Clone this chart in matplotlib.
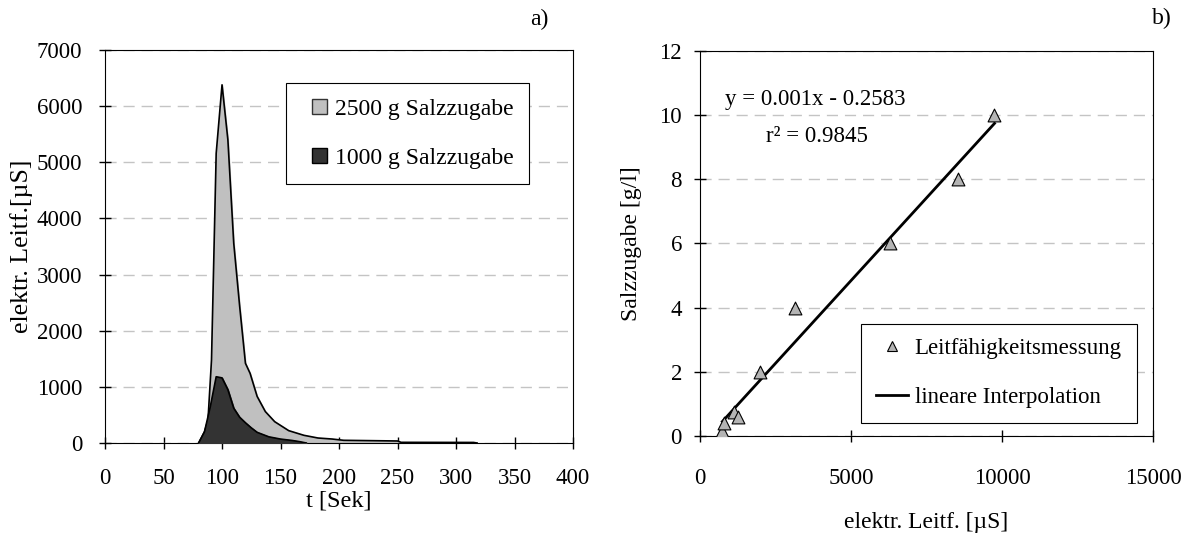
import numpy as np
import matplotlib
matplotlib.use("Agg")
import matplotlib.pyplot as plt
from matplotlib.patches import Patch, Rectangle
from matplotlib.lines import Line2D
from matplotlib.legend_handler import HandlerPatch

plt.rcParams['font.family'] = ['Liberation Serif', 'DejaVu Serif']
plt.rcParams['font.size'] = 16.5

# left panel: conductivity over time
t_2500 = [80, 85, 88, 91, 95, 100, 105, 110, 115, 120, 124, 130, 137, 145, 157,
          170, 182, 194, 204, 250, 253, 315, 318]
v_2500 = [0, 200, 410, 1480, 5160, 6380, 5400, 3560, 2450, 1420, 1240, 830, 560,
          380, 220, 137, 89, 71, 48, 36, 12, 10, 0]
t_1000 = [80, 85, 90, 95, 100, 105, 110, 115, 120, 125, 130, 140, 150, 160, 166, 172]
v_1000 = [0, 200, 650, 1180, 1160, 950, 620, 460, 360, 270, 190, 110, 70, 45, 25, 0]

# right panel: calibration
leitf = [740, 795, 1126, 1248, 2000, 3150, 6300, 8550, 9750]
salz = [0.15, 0.4, 0.75, 0.6, 2, 4, 6, 8, 10]

light = '#c0c0c0'
dark = '#333333'
grid_col = '#c4c4c4'


def small_square(legend, orig_handle, xdescent, ydescent, width, height, fontsize):
    # square sitting at the right end of the handle box
    side = 0.62 * fontsize
    return Rectangle((-xdescent + width - side, -ydescent + (height - side) / 2),
                     side, side)


fig = plt.figure(figsize=(11.95, 5.36), dpi=100)

# ---- a) ----
ax1 = fig.add_axes([0.0879, 0.1735, 0.3916, 0.7332])
ax1.fill_between(t_2500, v_2500, color=light, zorder=2)
ax1.plot(t_2500, v_2500, color='black', lw=1.2, zorder=3)
ax1.fill_between(t_1000, v_1000, color=dark, zorder=4)
ax1.plot(t_1000, v_1000, color='black', lw=1.2, zorder=5)
ax1.set_xlim(0, 400)
ax1.set_ylim(0, 7000)
ax1.set_xticks(np.arange(0, 401, 50))
ax1.set_yticks(np.arange(0, 7001, 1000))
ax1.yaxis.grid(True, ls=(0, (8, 5)), color=grid_col, lw=1)
ax1.set_axisbelow(True)
ax1.tick_params(direction='inout', length=8, width=1)
ax1.tick_params(axis='x', pad=14)
ax1.tick_params(axis='y', pad=12.5)
ax1.set_xlabel('t [Sek]', fontsize=17.5, va='center')
ax1.xaxis.set_label_coords(0.5, -0.147)
ax1.set_ylabel('elektr. Leitf.[µS]', fontsize=18.5, va='center')
ax1.yaxis.set_label_coords(-0.178, 0.5)
h1 = [Patch(facecolor=light, edgecolor='#333333', label='2500 g Salzzugabe'),
      Patch(facecolor=dark, edgecolor='black', label='1000 g Salzzugabe')]
leg1 = ax1.legend(handles=h1, loc='upper left', bbox_to_anchor=(0.387, 0.916),
                  borderaxespad=0, fancybox=False, edgecolor='black', framealpha=1,
                  handlelength=1.06, handleheight=0.7, handletextpad=0.34,
                  labelspacing=1.15, borderpad=0.65, fontsize=17,
                  handler_map={Patch: HandlerPatch(patch_func=small_square)})
leg1.get_frame().set_linewidth(0.8)
fig.text(0.451, 0.963, 'a)', fontsize=17, ha='center', va='center')

# ---- b) ----
ax2 = fig.add_axes([0.5858, 0.1866, 0.3791, 0.7183])
k, d = np.polyfit(leitf, salz, 1)
xf = np.array([min(leitf), max(leitf)])
ax2.plot(xf, k * xf + d, color='black', lw=2, zorder=3)
ax2.scatter(leitf, salz, marker='^', s=85, facecolor='#b4b4b4',
            edgecolor='black', linewidths=0.8, zorder=4)
ax2.set_xlim(0, 15000)
ax2.set_ylim(0, 12)
ax2.set_xticks([0, 5000, 10000, 15000])
ax2.set_yticks(np.arange(0, 13, 2))
ax2.yaxis.grid(True, ls=(0, (8, 5)), color=grid_col, lw=1)
ax2.set_axisbelow(True)
ax2.tick_params(direction='inout', length=8, width=1)
ax2.tick_params(axis='x', pad=19)
ax2.tick_params(axis='y', pad=9)
ax2.set_xlabel('elektr. Leitf. [µS]', fontsize=17, va='center')
ax2.xaxis.set_label_coords(0.5, -0.226)
ax2.set_ylabel('Salzzugabe [g/l]', fontsize=17, va='center')
ax2.yaxis.set_label_coords(-0.152, 0.5)
ax2.text(0.055, 0.873, 'y = 0.001x - 0.2583', transform=ax2.transAxes,
         fontsize=16.5, va='center', ha='left')
ax2.text(0.146, 0.777, 'r² = 0.9845', transform=ax2.transAxes,
         fontsize=16.5, va='center', ha='left')
h2 = [Line2D([], [], marker='^', ls='none', markersize=7, markerfacecolor='#b4b4b4',
             markeredgecolor='black', markeredgewidth=0.8, label='Leitfähigkeitsmessung'),
      Line2D([], [], color='black', lw=2, label='lineare Interpolation')]
leg2 = ax2.legend(handles=h2, loc='lower left', bbox_to_anchor=(0.355, 0.034),
                  borderaxespad=0, fancybox=False, edgecolor='black', framealpha=1,
                  handlelength=1.4, handletextpad=0.3, labelspacing=1.2,
                  borderpad=0.65, fontsize=16.5)
leg2.get_frame().set_linewidth(0.8)
fig.text(0.972, 0.965, 'b)', fontsize=17, ha='center', va='center')

plt.savefig('out.png', dpi=100)
